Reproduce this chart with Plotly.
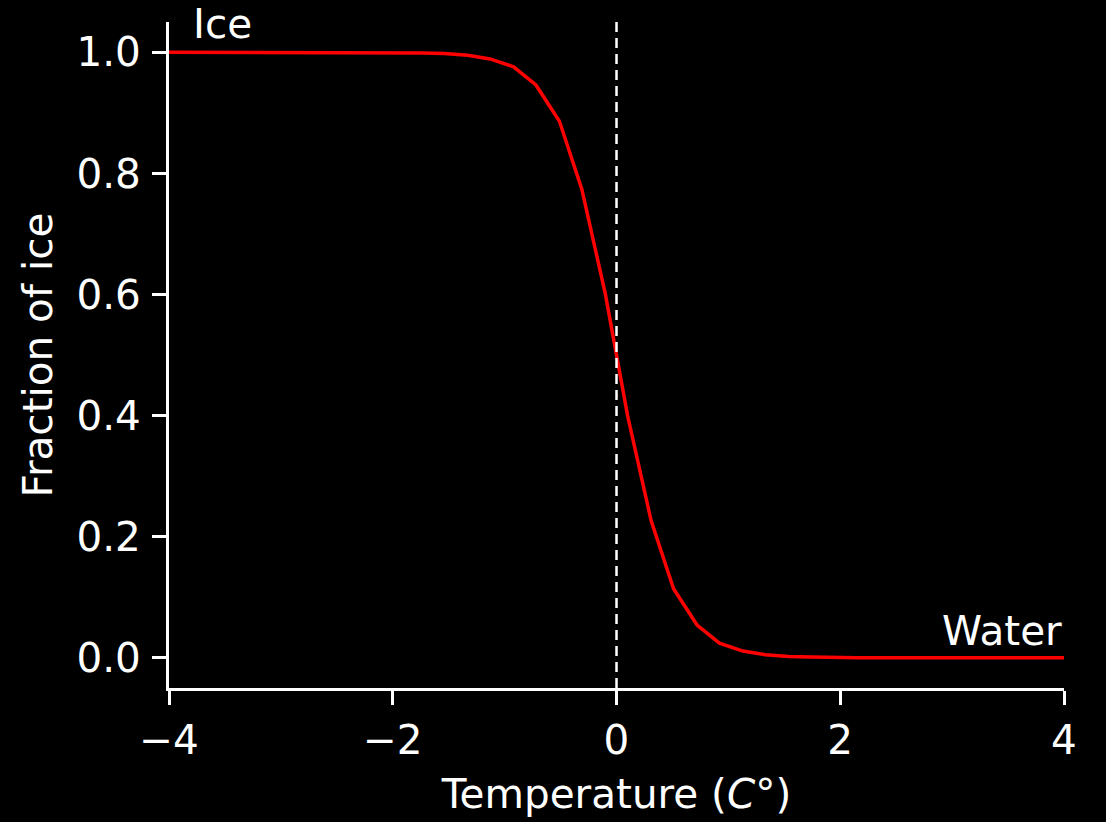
import plotly.graph_objects as go

# Temperature samples (°C)
temperature = [-4.0, -3.79, -3.59, -3.38, -3.18, -2.97, -2.77, -2.56, -2.36, -2.15,
               -1.95, -1.74, -1.54, -1.33, -1.13, -0.92, -0.72, -0.51, -0.31, -0.10,
               0.10, 0.31, 0.51, 0.72, 0.92, 1.13, 1.33, 1.54, 1.74, 1.95,
               2.15, 2.36, 2.56, 2.77, 2.97, 3.18, 3.38, 3.59, 3.79, 4.0]
# Fraction of ice
ice_fraction = [1.0, 1.0, 1.0, 1.0, 1.0, 1.0, 1.0, 1.0, 1.0, 1.0,
                1.0, 0.999, 0.998, 0.995, 0.989, 0.976, 0.946, 0.886, 0.774, 0.601,
                0.399, 0.226, 0.114, 0.054, 0.024, 0.011, 0.005, 0.002, 0.001, 0.0,
                0.0, 0.0, 0.0, 0.0, 0.0, 0.0, 0.0, 0.0, 0.0, 0.0]

x_tick_vals = [-4, -2, 0, 2, 4]
x_tick_text = ["\u22124", "\u22122", "0", "2", "4"]
y_tick_vals = [0.0, 0.2, 0.4, 0.6, 0.8, 1.0]
y_tick_text = ["0.0", "0.2", "0.4", "0.6", "0.8", "1.0"]

FONT = "DejaVu Sans"
FS = 40.5

fig = go.Figure()
fig.add_trace(go.Scatter(x=temperature, y=ice_fraction, mode="lines",
                         line=dict(color="#ff0000", width=3.5), showlegend=False))

fig.add_shape(type="line", xref="x", yref="paper", x0=0, x1=0, y0=0, y1=1,
              line=dict(color="white", width=2.5, dash="10px,6px"))

fig.add_annotation(x=-3.8, y=1.02, text="Ice", showarrow=False, xanchor="left",
                   yanchor="bottom", yshift=-10, font=dict(family=FONT, size=FS, color="white"))
fig.add_annotation(x=4.0, y=0.025, text="Water", showarrow=False, xanchor="right",
                   yanchor="bottom", yshift=-14, font=dict(family=FONT, size=FS, color="white"))

fig.update_layout(
    width=1106, height=822,
    paper_bgcolor="black", plot_bgcolor="black",
    margin=dict(l=169, r=42, t=22, b=131),
    font=dict(family=FONT, size=FS, color="white"),
    xaxis=dict(range=[-4, 4], tickvals=x_tick_vals, ticktext=x_tick_text,
               showgrid=False, zeroline=False, showline=True, linecolor="white",
               linewidth=3, ticks="outside", ticklen=14, tickwidth=3, tickcolor="white",
               title=dict(text="Temperature (<i>C</i>°)", font=dict(size=FS), standoff=18),
               tickfont=dict(size=FS)),
    yaxis=dict(range=[-0.05, 1.05], tickvals=y_tick_vals, ticktext=y_tick_text,
               showgrid=False, zeroline=False, showline=True, linecolor="white",
               linewidth=3, ticks="outside", ticklen=14, tickwidth=3, tickcolor="white",
               ticklabelstandoff=3,
               title=dict(text="Fraction of ice", font=dict(size=FS), standoff=12),
               tickfont=dict(size=FS)),
)

fig.write_html("out.html")
